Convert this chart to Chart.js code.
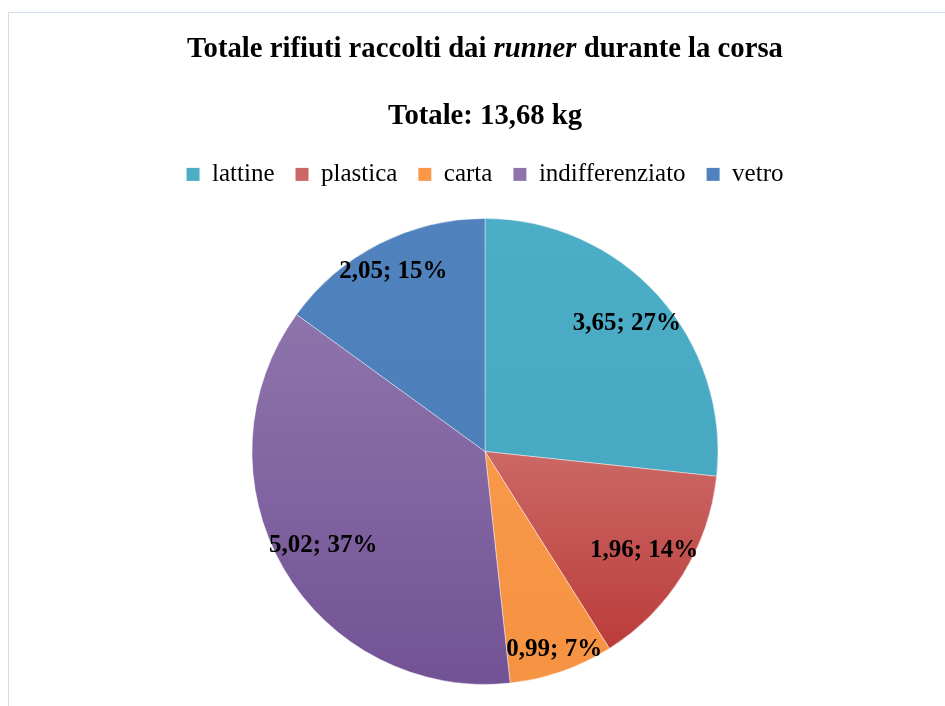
<!DOCTYPE html>
<html>
<head>
<meta charset="utf-8">
<script src="https://cdn.jsdelivr.net/npm/chart.js@4/dist/chart.umd.min.js"></script>
<style>
  html, body { margin: 0; padding: 0; background: #ffffff; overflow: hidden; }
  #wrap { position: absolute; left: 0; top: 0; width: 945px; height: 706px; }
  #frame { position: absolute; left: 8px; top: 12px; width: 1000px; height: 800px;
           border-left: 1px solid #D3E0F0; border-top: 1px solid #D3E0F0; }
  canvas { position: absolute; left: 0; top: 0; }
</style>
</head>
<body>
<div id="wrap">
  <div id="frame"></div>
  <canvas id="c" width="945" height="706"></canvas>
</div>
<script>
// ---- data ----
const categories = ['lattine', 'plastica', 'carta', 'indifferenziato', 'vetro'];
const values = [3.65, 1.96, 0.99, 5.02, 2.05];
const titleParts = [
  { text: 'Totale rifiuti raccolti dai ', italic: false },
  { text: 'runner', italic: true },
  { text: ' durante la corsa', italic: false }
];
const subtitleText = 'Totale: 13,68 kg';
// gradient colours per slice (top, bottom)
const topColors = ['#4CADC7', '#CB6865', '#F89848', '#8E74AB', '#5082BE'];
const bottomColors = ['#48A9C3', '#BB3C3A', '#F69343', '#725295', '#4D7FBB'];

const FONT = "'Liberation Serif', 'DejaVu Serif', serif";
const TITLE_SIZE = 28.7;
const total = values.reduce((a, b) => a + b, 0);

function fmtLabel(v) {
  const pct = Math.round(v / total * 100);
  return v.toFixed(2).replace('.', ',') + '; ' + pct + '%';
}

// per-slice vertical gradient over the slice's bounding box
function sliceGradient(ctx) {
  const chart = ctx.chart;
  const i = ctx.dataIndex;
  const area = chart.chartArea;
  if (!area || i === undefined) return topColors[i] || '#888';
  const cx = (area.left + area.right) / 2;
  const cy = (area.top + area.bottom) / 2;
  const r = 233;
  let cum = 0;
  for (let k = 0; k < i; k++) cum += values[k];
  const a0 = -Math.PI / 2 + cum / total * 2 * Math.PI;
  const a1 = a0 + values[i] / total * 2 * Math.PI;
  const ys = [cy, cy + r * Math.sin(a0), cy + r * Math.sin(a1)];
  const norm = a => { while (a < a0) a += 2 * Math.PI; return a; };
  if (norm(Math.PI / 2) <= a1) ys.push(cy + r);
  if (norm(-Math.PI / 2) <= a1) ys.push(cy - r);
  const y0 = Math.min(...ys), y1 = Math.max(...ys);
  const g = chart.ctx.createLinearGradient(0, y0, 0, y1 + 0.01);
  g.addColorStop(0, topColors[i]);
  g.addColorStop(1, bottomColors[i]);
  return g;
}

// draw the title with the italic word
const richTitle = {
  id: 'richTitle',
  afterLayout(chart) {
    const tb = chart.titleBlock;
    if (!tb || tb._richPatched) return;
    tb._richPatched = true;
    tb.draw = function () {
      const c = chart.ctx;
      const size = TITLE_SIZE;
      c.save();
      c.fillStyle = '#000';
      c.textBaseline = 'middle';
      c.textAlign = 'left';
      let w = 0;
      const widths = titleParts.map(p => {
        c.font = (p.italic ? 'italic ' : '') + 'bold ' + size + 'px ' + FONT;
        const m = c.measureText(p.text).width;
        w += m; return m;
      });
      let x = (this.left + this.right) / 2 - w / 2;
      const y = this.top + this.options.padding.top + size * 0.6;
      titleParts.forEach((p, k) => {
        c.font = (p.italic ? 'italic ' : '') + 'bold ' + size + 'px ' + FONT;
        c.fillText(p.text, x, y);
        x += widths[k];
      });
      c.restore();
    };
  }
};

// data labels placed near the outer edge, inside
const sliceLabels = {
  id: 'sliceLabels',
  afterDatasetsDraw(chart) {
    const c = chart.ctx;
    const meta = chart.getDatasetMeta(0);
    c.save();
    c.font = 'bold 25px ' + FONT;
    c.fillStyle = '#000';
    c.textAlign = 'center';
    c.textBaseline = 'middle';
    meta.data.forEach((arc, i) => {
      const p = arc.getProps(['x', 'y', 'startAngle', 'endAngle', 'outerRadius'], true);
      const mid = (p.startAngle + p.endAngle) / 2;
      const txt = fmtLabel(values[i]);
      const hw = c.measureText(txt).width / 2;
      const hh = 11;
      const target = p.outerRadius + 7;
      let lo = 0, hi = p.outerRadius;
      for (let it = 0; it < 40; it++) {
        const d = (lo + hi) / 2;
        const dx = Math.abs(d * Math.cos(mid)) + hw;
        const dy = Math.abs(d * Math.sin(mid)) + hh;
        if (Math.hypot(dx, dy) > target) hi = d; else lo = d;
      }
      c.fillText(txt, p.x + lo * Math.cos(mid), p.y + lo * Math.sin(mid));
    });
    c.restore();
  }
};

new Chart(document.getElementById('c'), {
  type: 'pie',
  data: {
    labels: categories,
    datasets: [{
      data: values,
      radius: 233,
      backgroundColor: sliceGradient,
      borderColor: 'rgba(255,255,255,0.6)',
      borderWidth: 0.7
    }]
  },
  options: {
    responsive: false,
    animation: false,
    layout: { padding: { left: 25, right: 0, top: 0, bottom: -15 } },
    plugins: {
      title: {
        display: true,
        text: titleParts.map(p => p.text).join(''),
        font: { family: FONT, size: TITLE_SIZE, weight: 'bold' },
        color: '#000',
        padding: { top: 32, bottom: 10 }
      },
      subtitle: {
        display: true,
        text: subtitleText,
        font: { family: FONT, size: TITLE_SIZE, weight: 'bold' },
        color: '#000',
        padding: { top: 23, bottom: 7 }
      },
      legend: {
        position: 'top',
        labels: {
          font: { family: FONT, size: 25 },
          color: '#000',
          boxWidth: 13,
          boxHeight: 13,
          padding: 21,
          generateLabels(chart) {
            return categories.map((name, i) => ({
              text: name,
              fillStyle: topColors[i],
              strokeStyle: topColors[i],
              lineWidth: 0,
              hidden: false,
              index: i
            }));
          }
        }
      },
      tooltip: { enabled: false }
    }
  },
  plugins: [richTitle, sliceLabels]
});
</script>
</body>
</html>
